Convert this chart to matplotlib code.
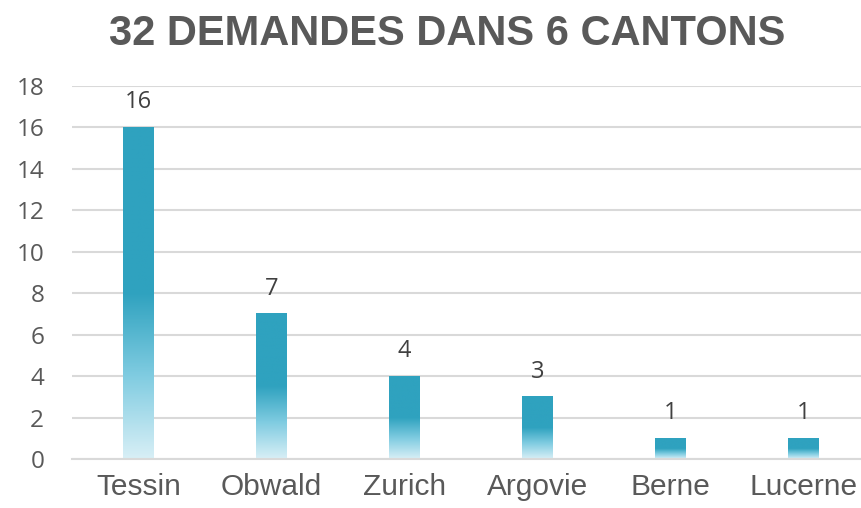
import numpy as np
import matplotlib.pyplot as plt
from matplotlib.colors import LinearSegmentedColormap

cantons = ["Tessin", "Obwald", "Zurich", "Argovie", "Berne", "Lucerne"]
demandes = [16, 7, 4, 3, 1, 1]
yticks = [0, 2, 4, 6, 8, 10, 12, 14, 16, 18]

# bar fill: light at the bottom, solid teal from about mid-height up
grad = LinearSegmentedColormap.from_list(
    "teal", [(0.0, "#d8eff6"), (0.25, "#80cce1"), (0.5, "#2fa2bf"), (1.0, "#2fa2bf")])

fig = plt.figure(figsize=(8.61, 5.08), dpi=100)
ax = fig.add_axes([72 / 861, 49 / 508, 1 - 72 / 861, (459 - 86) / 508])

x = np.arange(len(cantons))
bars = ax.bar(x, demandes, width=0.23, color="none", zorder=2)

ramp = np.linspace(0, 1, 256).reshape(-1, 1)
for b in bars:
    ax.imshow(ramp, cmap=grad, origin="lower", aspect="auto", zorder=2,
              extent=(b.get_x(), b.get_x() + b.get_width(), 0, b.get_height()))
    ax.text(b.get_x() + b.get_width() / 2, b.get_height() + 0.92, str(int(b.get_height())),
            ha="center", va="baseline", fontsize=17, color="#404040", family="Open Sans")

ax.set_xlim(-0.5, 5.5 - 9 / 133)
ax.set_ylim(0, 18)
ax.set_yticks(yticks)
ax.set_xticks(x)
ax.set_xticklabels(cantons, fontsize=21.5, color="#595959", family="Liberation Sans")
for lab in ax.get_yticklabels():
    lab.set_fontsize(17.5)
    lab.set_color("#595959")
    lab.set_family("Open Sans")
ax.tick_params(axis="y", length=0, pad=20)
ax.tick_params(axis="x", length=0, pad=10)
ax.grid(axis="y", color="#d9d9d9", linewidth=1.5, zorder=0)
ax.set_axisbelow(True)
for s in ["top", "right", "left"]:
    ax.spines[s].set_visible(False)
ax.spines["bottom"].set_color("#d9d9d9")
ax.spines["bottom"].set_linewidth(1.5)

fig.text(447 / 861, (508 - 45) / 508, "32 DEMANDES DANS 6 CANTONS", ha="center", va="baseline",
         fontsize=30, fontweight="bold", color="#595959", family="Liberation Sans")

fig.savefig("out.png", dpi=100)
